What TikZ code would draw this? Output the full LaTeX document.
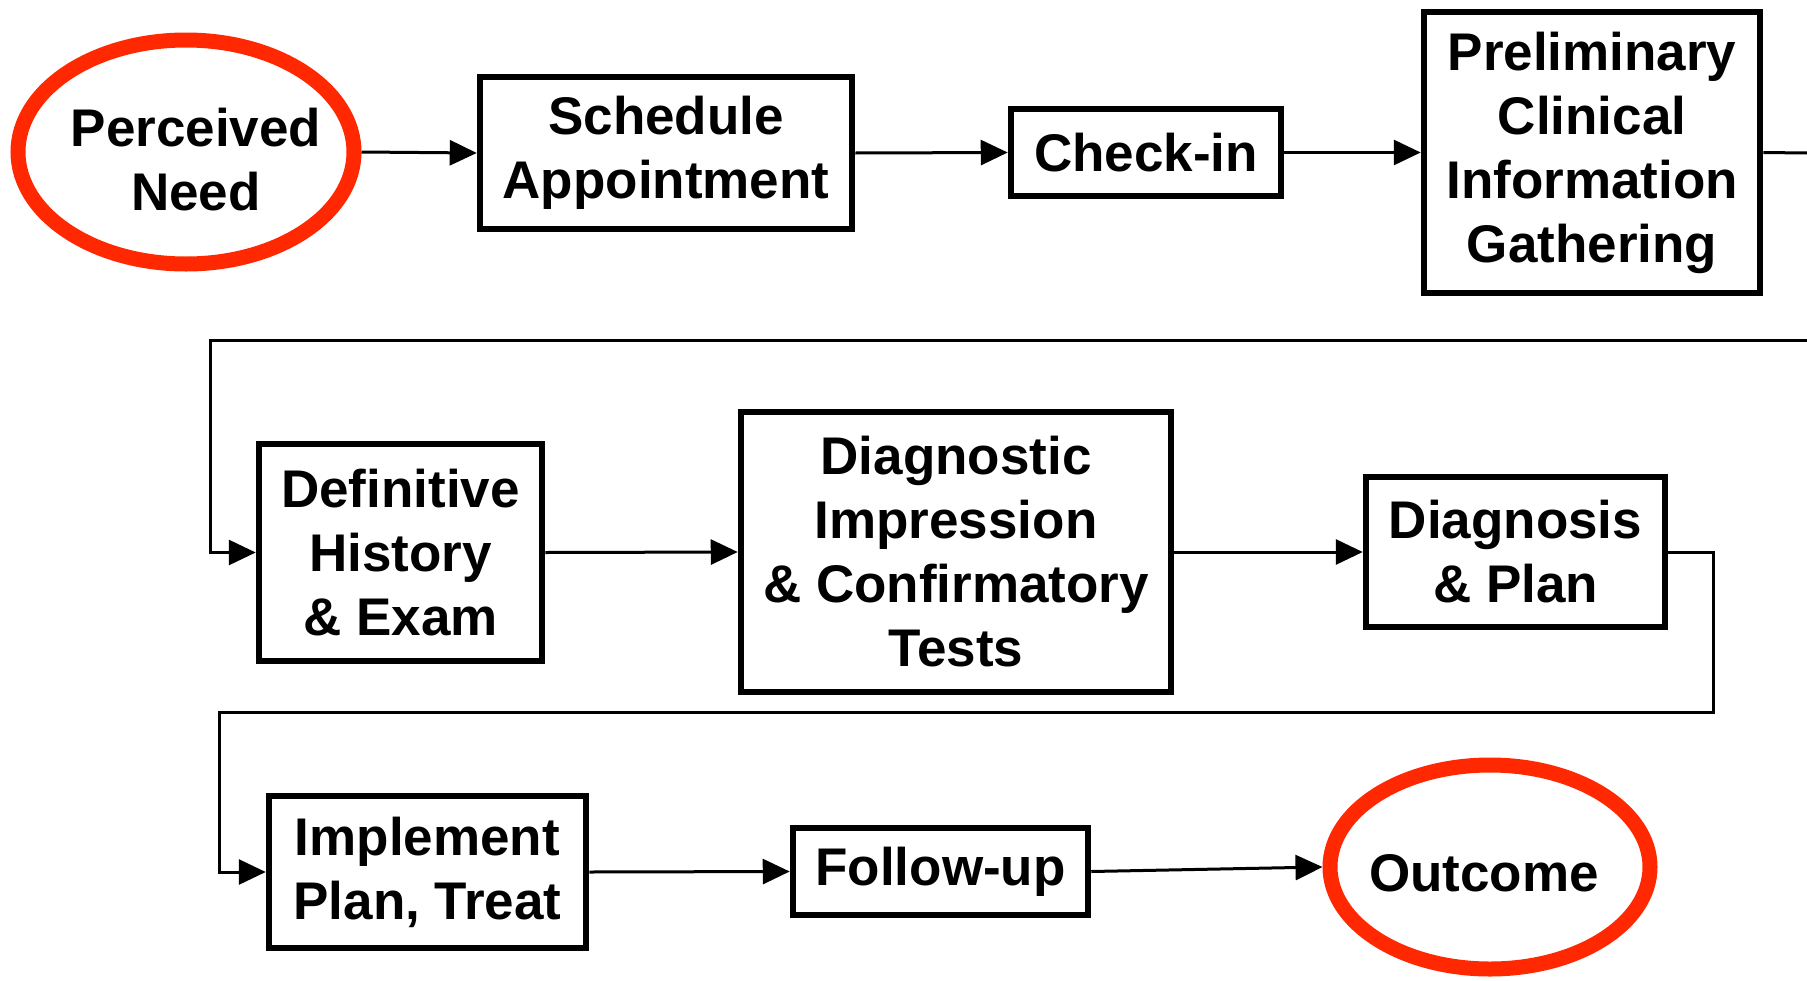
\documentclass[tikz,border=0pt]{standalone}
\usepackage{fontspec}
\setmainfont{Liberation Sans}
\usetikzlibrary{arrows.meta,shapes.geometric}
\definecolor{ringred}{RGB}{255,40,0}
\begin{document}
\begin{tikzpicture}[x=1pt,y=-1pt,
  every node/.style={font=\fontsize{53}{64}\selectfont\bfseries, align=center, inner sep=0pt},
  stepbox/.style={draw=black, line width=6.5pt, rectangle},
  ring/.style={draw=ringred, line width=15pt, ellipse},
  conn/.style={line width=3pt, draw=black},
  arr/.style={conn, -{Triangle[length=27pt,width=25pt]}}
]
\useasboundingbox (0,0) rectangle (1807,980);
\fill[white] (0,0) rectangle (1807,980);

\node[ring, minimum width=336pt, minimum height=224pt] (need) at (186,152) {};
\node (needtxt) at (196,160) {Perceived\\Need};
\node[stepbox, minimum width=372pt, minimum height=152pt] (sched) at (666,153) {Schedule\\Appointment};
\node[stepbox, minimum width=270pt, minimum height=87pt] (check) at (1146,152.5) {Check-in};
\node[stepbox, minimum width=336pt, minimum height=281pt] (prelim) at (1592,152.5) {Preliminary\\Clinical\\Information\\Gathering};

\node[stepbox, minimum width=283pt, minimum height=217pt] (hist) at (400.5,552.5) {Definitive\\History\\\& Exam};
\node[stepbox, minimum width=430pt, minimum height=280pt] (dimp) at (956,552) {Diagnostic\\Impression\\\& Confirmatory\\Tests};
\node[stepbox, minimum width=299pt, minimum height=150pt] (dplan) at (1515.5,552) {Diagnosis\\\& Plan};

\node[stepbox, minimum width=317pt, minimum height=152pt] (impl) at (427.5,872) {Implement\\Plan, Treat};
\node[stepbox, minimum width=295pt, minimum height=87pt] (follow) at (940.5,871.5) {Follow-up};
\node[ring, minimum width=320pt, minimum height=204pt] (outc) at (1490,867) {};
\node (outctxt) at (1484,873) {Outcome};

\coordinate (edgeA) at (1807,153);
\coordinate (edgeB) at (1807,340);
\coordinate (turnB) at (210,340);
\coordinate (turnC) at (1713,552);
\coordinate (turnD) at (1713,712);
\coordinate (turnE) at (219,712);

\draw[arr] (need.east) -- (sched.west);
\draw[arr] (sched.east) -- (check.west);
\draw[arr] (check.east) -- (prelim.west);
\draw[conn] (prelim.east) -- (edgeA);
\draw[arr] (edgeB) -- (turnB) |- (hist.west);
\draw[arr] (hist.east) -- (dimp.west);
\draw[arr] (dimp.east) -- (dplan.west);
\draw[arr] (dplan.east) -- (turnC) -- (turnD) -- (turnE) |- (impl.west);
\draw[arr] (impl.east) -- (follow.west);
\draw[arr] (follow.east) -- (outc.west);
\end{tikzpicture}
\end{document}
